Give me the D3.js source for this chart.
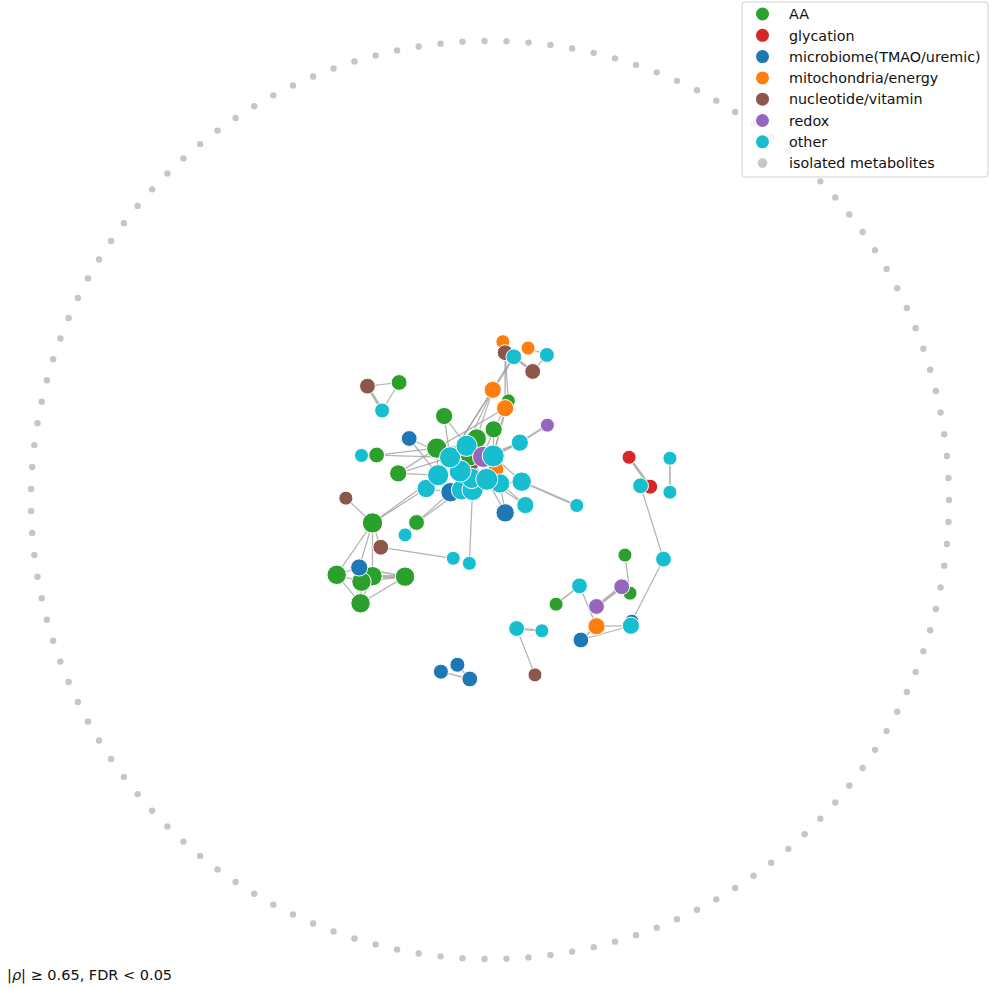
<!DOCTYPE html>
<html>
<head>
<meta charset="utf-8">
<script src="https://cdn.jsdelivr.net/npm/d3@7"></script>
<style>
    body { margin: 0; background: #fff; }
    svg { display: block; font-family: "DejaVu Sans", sans-serif; }
</style>
</head>
<body>
<svg width="989" height="988"></svg>
<script>
'use strict';

// categories (legend order) and their colours
const categories = ["AA", "glycation", "microbiome(TMAO/uremic)", "mitochondria/energy", "nucleotide/vitamin", "redox", "other"];
const catCodes = ["AA", "gly", "mic", "mit", "nuc", "red", "oth"];
const catColors = ["#2ca02c", "#d62728", "#1f77b4", "#ff7f0e", "#8c564b", "#9467bd", "#17becf"];
const isolatedLabel = "isolated metabolites";
const isolatedCount = 131;
const caption = ["|", "\u03c1", "| \u2265 0.65, FDR < 0.05"];

// connected metabolites: id, category, layout x, layout y, degree (drawing order)
const nodes = [
    ["n37", "nuc", -0.040, 0.081, 2], ["n38", "mit", 0.013, 0.067, 2], ["n39", "AA", -0.044, 0.094, 4],
    ["n19", "AA", -0.029, 0.134, 5], ["n11", "AA", 0.040, 0.216, 1],
    ["n1", "mit", 0.028, 0.345, 1], ["n2", "nuc", 0.033, 0.321, 2], ["n3", "oth", 0.052, 0.312, 2],
    ["n4", "mit", 0.083, 0.331, 1], ["n5", "oth", 0.124, 0.316, 1.5], ["n6", "nuc", 0.093, 0.280, 2],
    ["n7", "nuc", -0.267, 0.248, 2], ["n8", "AA", -0.198, 0.256, 2], ["n9", "oth", -0.235, 0.195, 1.5],
    ["n10", "mit", 0.006, 0.240, 3], ["n12", "mit", 0.033, 0.200, 3], ["n13", "AA", -0.100, 0.183, 3],
    ["n14", "red", 0.125, 0.163, 1], ["n15", "AA", 0.008, 0.154, 3], ["n16", "mic", -0.176, 0.134, 2],
    ["n17", "oth", 0.065, 0.125, 3], ["n18", "AA", -0.116, 0.113, 6], ["n21", "oth", -0.280, 0.097, 1],
    ["n22", "AA", -0.247, 0.098, 2], ["n26", "AA", -0.200, 0.058, 3], ["n40", "nuc", -0.314, 0.004, 1],
    ["n32", "oth", -0.139, 0.025, 4], ["n33", "mic", -0.086, 0.017, 5], ["n41", "oth", 0.077, -0.011, 3],
    ["n42", "mic", 0.033, -0.028, 4], ["n31", "oth", 0.069, 0.040, 5], ["n30", "oth", 0.022, 0.036, 5],
    ["n35", "oth", -0.062, 0.022, 6], ["n34", "oth", -0.038, 0.022, 7], ["n36", "oth", -0.040, 0.047, 6],
    ["n29", "oth", -0.007, 0.045, 8], ["n27", "oth", -0.113, 0.054, 7], ["n28", "oth", -0.065, 0.063, 8],
    ["n25", "oth", -0.087, 0.093, 7], ["n20", "oth", -0.051, 0.118, 7], ["n23", "red", -0.015, 0.094, 7],
    ["n24", "oth", 0.007, 0.096, 8], ["n43", "oth", 0.189, -0.012, 1],
    ["n44", "AA", -0.256, -0.050, 6], ["n45", "AA", -0.160, -0.049, 2], ["n46", "oth", -0.185, -0.076, 1],
    ["n47", "nuc", -0.238, -0.103, 2], ["n48", "oth", -0.080, -0.127, 1], ["n49", "oth", -0.045, -0.138, 1],
    ["n51", "AA", -0.334, -0.163, 5], ["n52", "AA", -0.256, -0.166, 5], ["n53", "AA", -0.280, -0.178, 5],
    ["n50", "mic", -0.285, -0.147, 3], ["n54", "AA", -0.185, -0.167, 5], ["n55", "AA", -0.282, -0.225, 5],
    ["n56", "gly", 0.303, 0.093, 1], ["n57", "oth", 0.392, 0.091, 1], ["n59", "gly", 0.349, 0.029, 1.5],
    ["n58", "oth", 0.328, 0.031, 2], ["n60", "oth", 0.392, 0.017, 1], ["n61", "oth", 0.378, -0.129, 2],
    ["n62", "AA", 0.294, -0.120, 1], ["n63", "oth", 0.195, -0.187, 2], ["n65", "AA", 0.305, -0.203, 1],
    ["n64", "red", 0.287, -0.189, 2], ["n66", "AA", 0.144, -0.227, 1], ["n67", "red", 0.232, -0.232, 2],
    ["n69", "mic", 0.309, -0.264, 1], ["n70", "oth", 0.307, -0.274, 3], ["n68", "mit", 0.232, -0.275, 3],
    ["n71", "mic", 0.198, -0.305, 2], ["n72", "oth", 0.058, -0.280, 2], ["n73", "oth", 0.113, -0.285, 1],
    ["n74", "nuc", 0.098, -0.381, 1], ["n75", "mic", -0.107, -0.374, 1.5], ["n76", "mic", -0.071, -0.359, 1.5],
    ["n77", "mic", -0.044, -0.390, 2]
];

// correlations kept: source, target, |rho|
const edges = [
    ["n1", "n2", 0.7], ["n2", "n3", 0.7], ["n3", "n6", 0.86], ["n4", "n5", 0.7], ["n5", "n6", 0.7],
    ["n3", "n10", 0.82], ["n2", "n12", 0.72], ["n2", "n11", 0.7], ["n12", "n15", 0.7],
    ["n10", "n20", 0.7], ["n10", "n19", 0.7], ["n10", "n25", 0.7], ["n12", "n18", 0.7], ["n10", "n27", 0.7],
    ["n11", "n24", 0.7], ["n12", "n24", 0.7], ["n15", "n24", 0.7], ["n15", "n23", 0.7], ["n15", "n20", 0.7],
    ["n13", "n20", 0.7], ["n13", "n25", 0.7], ["n14", "n17", 0.78], ["n17", "n24", 0.82], ["n17", "n23", 0.7],
    ["n16", "n25", 0.7], ["n16", "n27", 0.7], ["n21", "n22", 0.7], ["n22", "n18", 0.7], ["n22", "n25", 0.7],
    ["n26", "n18", 0.7], ["n26", "n27", 0.7], ["n26", "n25", 0.7],
    ["n40", "n44", 0.7], ["n44", "n32", 0.7], ["n44", "n27", 0.7], ["n44", "n51", 0.7], ["n44", "n50", 0.7],
    ["n44", "n52", 0.7], ["n44", "n47", 0.7], ["n47", "n48", 0.7], ["n49", "n34", 0.7],
    ["n45", "n33", 0.7], ["n45", "n35", 0.7], ["n46", "n45", 0.7],
    ["n51", "n50", 0.7], ["n51", "n53", 0.7], ["n51", "n55", 0.7], ["n52", "n54", 0.9], ["n53", "n54", 0.72],
    ["n55", "n54", 0.7], ["n53", "n55", 0.7], ["n52", "n55", 0.7], ["n50", "n54", 0.75], ["n50", "n52", 0.7],
    ["n43", "n31", 0.8], ["n41", "n30", 0.7], ["n41", "n29", 0.7], ["n42", "n29", 0.7], ["n42", "n30", 0.7],
    ["n31", "n30", 0.7], ["n31", "n24", 0.7],
    ["n20", "n25", 0.7], ["n20", "n23", 0.7], ["n20", "n24", 0.7], ["n20", "n28", 0.7], ["n25", "n28", 0.7],
    ["n25", "n27", 0.7], ["n27", "n28", 0.7], ["n28", "n29", 0.7], ["n28", "n36", 0.7], ["n29", "n24", 0.7],
    ["n29", "n23", 0.7], ["n29", "n30", 0.7], ["n23", "n24", 0.8], ["n36", "n34", 0.7], ["n34", "n35", 0.7],
    ["n35", "n33", 0.7], ["n27", "n32", 0.7], ["n32", "n33", 0.7], ["n28", "n35", 0.7], ["n29", "n34", 0.7],
    ["n18", "n25", 0.7], ["n18", "n27", 0.7], ["n19", "n20", 0.7], ["n19", "n24", 0.7], ["n39", "n28", 0.7],
    ["n37", "n29", 0.7], ["n38", "n24", 0.7], ["n38", "n30", 0.7], ["n18", "n20", 0.7], ["n33", "n27", 0.7],
    ["n36", "n29", 0.7],
    ["n7", "n8", 0.7], ["n7", "n9", 0.86], ["n8", "n9", 0.7],
    ["n56", "n59", 0.86], ["n58", "n59", 0.7], ["n57", "n60", 0.75], ["n58", "n61", 0.7], ["n61", "n69", 0.7],
    ["n62", "n65", 0.7], ["n64", "n67", 0.9], ["n63", "n66", 0.75], ["n63", "n68", 0.7], ["n68", "n70", 0.7],
    ["n71", "n70", 0.7], ["n68", "n71", 0.75], ["n72", "n73", 0.78], ["n72", "n74", 0.7],
    ["n75", "n77", 0.72], ["n76", "n77", 0.7]
];

let svg, x, y, r, w, color;

window.onload = function () {
    svg = d3.select("svg");
    x = d3.scaleLinear().domain([-1, 1]).range([31, 949]);
    y = d3.scaleLinear().domain([-1, 1]).range([959, 41]);
    r = d3.scaleSqrt().domain([1, 8]).range([7, 11]);
    w = d3.scaleLinear().domain([0.65, 0.9]).range([0.8, 3]);
    color = d3.scaleOrdinal().domain(catCodes).range(catColors);

    let byId = {};
    nodes.forEach(function (d) {
        byId[d[0]] = {x: d[2], y: d[3]};
    });

    // isolated metabolites on the outer ring
    let ring = d3.range(isolatedCount).map(function (k) {
        let a = 2 * Math.PI * k / isolatedCount;
        return {x: Math.cos(a), y: Math.sin(a)};
    });
    svg.append("g").selectAll("circle")
        .data(ring).enter()
        .append("circle")
        .attr("cx", function (d) { return x(d.x); })
        .attr("cy", function (d) { return y(d.y); })
        .attr("r", 3.2)
        .attr("fill", "#c6c6c6");

    svg.append("g").selectAll("line")
        .data(edges).enter()
        .append("line")
        .attr("x1", function (d) { return x(byId[d[0]].x); })
        .attr("y1", function (d) { return y(byId[d[0]].y); })
        .attr("x2", function (d) { return x(byId[d[1]].x); })
        .attr("y2", function (d) { return y(byId[d[1]].y); })
        .attr("stroke", "#9a9a9a")
        .attr("stroke-opacity", 0.75)
        .attr("stroke-width", function (d) { return w(d[2]); });

    svg.append("g").selectAll("circle")
        .data(nodes).enter()
        .append("circle")
        .attr("cx", function (d) { return x(d[2]); })
        .attr("cy", function (d) { return y(d[3]); })
        .attr("r", function (d) { return r(d[4]); })
        .attr("fill", function (d) { return color(d[1]); })
        .attr("stroke", "#fff")
        .attr("stroke-width", 1);

    legend();

    let cap = svg.append("text")
        .attr("x", 7)
        .attr("y", 980)
        .attr("font-size", 14.5)
        .attr("fill", "#111");
    cap.selectAll("tspan")
        .data(caption).enter()
        .append("tspan")
        .attr("font-style", function (d, i) { return i === 1 ? "italic" : null; })
        .text(function (d) { return d; });
};

function legend() {
    let items = categories.map(function (c, i) {
        return {label: c, color: catColors[i], r: 6.5};
    });
    items.push({label: isolatedLabel, color: "#c6c6c6", r: 4.8});

    let g = svg.append("g").attr("transform", "translate(742,2)");
    g.append("rect")
        .attr("width", 246)
        .attr("height", 175)
        .attr("rx", 3)
        .attr("fill", "#fff")
        .attr("fill-opacity", 0.8)
        .attr("stroke", "#d0d0d0");

    let row = g.selectAll(".item")
        .data(items).enter()
        .append("g")
        .attr("class", "item")
        .attr("transform", function (d, i) {
            return "translate(0," + (12 + i * 21.3) + ")";
        });
    row.append("circle")
        .attr("cx", 20.5)
        .attr("r", function (d) { return d.r; })
        .attr("fill", function (d) { return d.color; });
    row.append("text")
        .attr("x", 47)
        .attr("y", 5.2)
        .attr("font-size", 14.3)
        .attr("fill", "#111")
        .text(function (d) { return d.label; });
}
</script>
</body>
</html>
